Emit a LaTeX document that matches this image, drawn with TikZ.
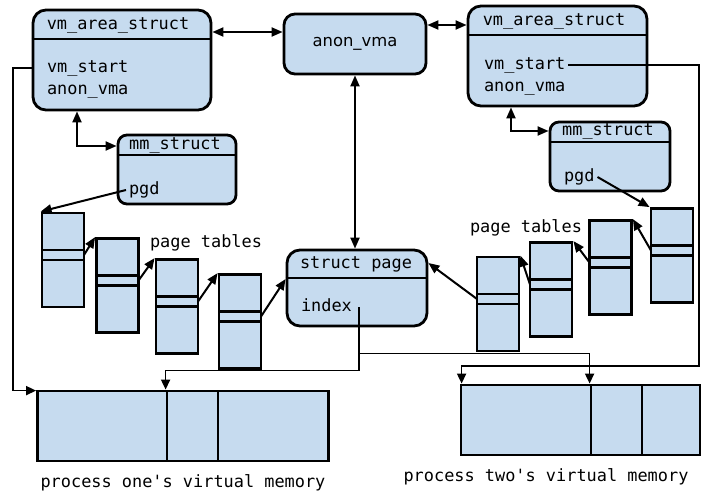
\documentclass[tikz,border=0pt]{standalone}
\usepackage{fontspec}
\setmainfont{DejaVu Sans}
\setmonofont{DejaVu Sans Mono}
\usetikzlibrary{arrows.meta}

\definecolor{boxblue}{RGB}{198,219,239}

\begin{document}
\begin{tikzpicture}[x=1pt, y=-1pt, >={Triangle[length=11pt, width=9pt]}, line width=2pt,
    box/.style={draw, fill=boxblue, line width=2.8pt, inner sep=0pt},
    ptab/.style={draw, fill=boxblue, line width=2.8pt, minimum width=42pt, minimum height=94pt, inner sep=0pt},
    vmem/.style={draw, fill=boxblue, line width=2.8pt, minimum height=70pt, inner sep=0pt},
    code/.style={font=\fontsize{16.9}{20}\ttfamily, inner sep=2pt, text height=12pt, text depth=3pt},
    wire/.style={line width=1.7pt, >={Triangle[length=10pt, width=9pt]}}]
    \useasboundingbox (0,0) rectangle (710,493);

    % structs
    \node[box, rounded corners=13pt, minimum width=178pt, minimum height=100pt] (VA1) at (122,60) {};
    \node[box, rounded corners=11pt, minimum width=142pt, minimum height=60pt,
          font=\fontsize{16.4}{20}\selectfont] (AV) at (355,44) {anon\_vma};
    \node[box, rounded corners=13pt, minimum width=179pt, minimum height=100pt] (VA2) at (557.5,56) {};
    \node[box, rounded corners=9pt, minimum width=118pt, minimum height=69pt] (MM1) at (177,169.5) {};
    \node[box, rounded corners=9pt, minimum width=120pt, minimum height=69pt] (MM2) at (610,156.5) {};
    \node[box, rounded corners=13pt, minimum width=140pt, minimum height=76pt] (SP) at (357,288) {};

    \draw[line width=2.8pt] (VA1.west |- 0,39) -- (VA1.east |- 0,39)
                            (VA2.west |- 0,35) -- (VA2.east |- 0,35)
                            (MM1.west |- 0,155) -- (MM1.east |- 0,155)
                            (MM2.west |- 0,142) -- (MM2.east |- 0,142)
                            (SP.west |- 0,278) -- (SP.east |- 0,278);

    \node[code] (VA1t) at (118,25) {vm\_area\_struct};
    \node[code, anchor=west] (VA1s) at (44,68) {vm\_start};
    \node[code, anchor=west] (VA1a) at (44,90) {anon\_vma};
    \node[code] (VA2t) at (554,21) {vm\_area\_struct};
    \node[code, anchor=west] (VA2s) at (481,65) {vm\_start};
    \node[code, anchor=west] (VA2a) at (481,87) {anon\_vma};
    \node[code] (MM1t) at (175,145) {mm\_struct};
    \node[code, anchor=west] (MM1p) at (126,190) {pgd};
    \node[code] (MM2t) at (608,131) {mm\_struct};
    \node[code, anchor=west] (MM2p) at (561,177) {pgd};
    \node[code] (SPt) at (356,264) {struct page};
    \node[code, anchor=west] (SPi) at (298,307) {index};

    % page tables
    \foreach \n/\x/\y in {L1/63/260, L2/117.5/285.5, L3/177/306.5, L4/240/321.5,
                          R1/498/304, R2/551/289.5, R3/610.5/267.5, R4/672/255.5} {
        \node[ptab] (\n) at (\x,\y) {};
        \draw[line width=2.8pt] (\x-21,\y-10) -- (\x+21,\y-10) (\x-21,\y) -- (\x+21,\y);
        \coordinate (\n-l) at (\x-21,\y-5);
        \coordinate (\n-r) at (\x+21,\y-5);
    }
    \node[code] (PTlab1) at (206,243) {page tables};
    \node[code] (PTlab2) at (526,228) {page tables};

    % virtual memory
    \node[vmem, minimum width=291pt] (VM1) at (183,426) {};
    \node[vmem, minimum width=51pt] (VM1p) at (192.5,426) {};
    \node[vmem, minimum width=239pt] (VM2) at (580.5,420) {};
    \node[vmem, minimum width=51pt] (VM2p) at (616.5,420) {};
    \node[code] (VM1lab) at (183,483) {process one's virtual memory};
    \node[code] (VM2lab) at (546,477) {process two's virtual memory};

    % links
    \draw[<->] ([yshift=12pt]AV.west -| VA1.east) -- ([yshift=12pt]AV.west);
    \draw[<->] ([yshift=19pt]AV.east) -- ([yshift=19pt]AV.east -| VA2.west);
    \draw[<->] (AV.south) -- (AV.south |- SP.north);
    \draw[<->] ([xshift=-45pt]VA1.south) |- ([yshift=23.5pt]MM1.west);
    \draw[<->] ([xshift=-46.5pt]VA2.south) |- ([yshift=25.5pt]MM2.west);

    \draw[->] (MM1p.west) -- (L1.north west);
    \draw[->] (L1-r) -- (L2.north west);
    \draw[->] (L2-r) -- (L3.north west);
    \draw[->] (L3-r) -- (L4.north west);
    \draw[->] (L4-r) -- ([yshift=9pt]SP.west);
    \draw[->] (MM2p.east) -- (R4.north west);
    \draw[->] (R4-l) -- (R3.north east);
    \draw[->] (R3-l) -- (R2.north east);
    \draw[->] (R2-l) -- (R1.north east);
    \draw[->] (R1-l) -- ([yshift=25pt]SP.east);

    % vm_start and index
    \coordinate (C1) at (699,366);
    \coordinate (IX) at ([xshift=4pt]SPi.east);
    \draw[wire, ->] (VA1.west |- VA1s) -| ([xshift=-23pt, yshift=-1pt]VM1.north west) -- ([yshift=-1pt]VM1.north west);
    \draw[wire, ->] (VA2s.east) -| (C1) -| ([xshift=2pt]VM2.north west);
    \draw[wire, ->] (IX) |- ([yshift=19pt]VM1p.north west) -- (VM1p.north west);
    \draw[wire, ->] ([yshift=30pt]VM2p.north west -| IX) -| (VM2p.north west);
\end{tikzpicture}
\end{document}
